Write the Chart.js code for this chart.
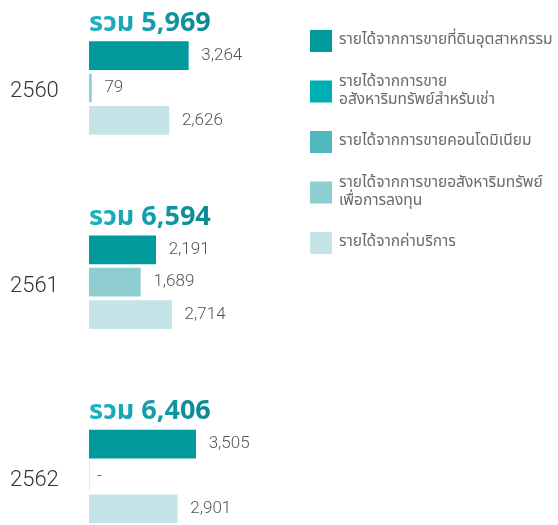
<!DOCTYPE html>
<html>
<head>
<meta charset="utf-8">
<script src="https://cdn.jsdelivr.net/npm/chart.js@4.4.1/dist/chart.umd.min.js"></script>
<style>
  html, body { margin: 0; padding: 0; background: #fff; }
  #wrap { width: 558px; height: 525px; position: relative; }
</style>
</head>
<body>
<div id="wrap"><canvas id="chart"></canvas></div>
<script>
(function () {
    "use strict";

    const years = ["2560", "2561", "2562"];
    const landSales = [3264, 2191, 3505];
    const leaseSales = [null, null, null];
    const condoSales = [null, null, null];
    const investSales = [79, 1689, 0];
    const serviceIncome = [2626, 2714, 2901];

    const seriesNames = [
        ["รายได้จากการขายที่ดินอุตสาหกรรม"],
        ["รายได้จากการขาย", "อสังหาริมทรัพย์สำหรับเช่า"],
        ["รายได้จากการขายคอนโดมิเนียม"],
        ["รายได้จากการขายอสังหาริมทรัพย์", "เพื่อการลงทุน"],
        ["รายได้จากค่าบริการ"],
    ];
    const seriesColors = ["#009a9c", "#00afb3", "#50b9bd", "#8fced0", "#c5e4e7"];

    const seriesValues = [landSales, leaseSales, condoSales, investSales, serviceIncome];
    const seriesRow = ["a", "b", "b", "b", "c"];

    const thaiFont = "'Noto Sans Thai', 'Noto Sans', sans-serif";
    const numFont = "Roboto, 'Liberation Sans', sans-serif";

    // one title row + three bar rows per year, two empty rows between years
    const rows = [];
    years.forEach((y, i) => {
        rows.push(y + "-t", y + "-a", y + "-b", y + "-c");
        if (i < years.length - 1) rows.push(y + "-g1", y + "-g2");
    });

    const totals = years.map((y, i) =>
        seriesValues.reduce((sum, vals) => sum + (vals[i] || 0), 0)
    );

    const datasets = seriesValues.map((vals, s) => ({
        label: seriesNames[s].join(" "),
        data: years.map((y, i) => ({ x: vals[i], y: y + "-" + seriesRow[s] })),
        backgroundColor: seriesColors[s],
        barThickness: 28,
        grouped: false,
    }));

    const valueLabels = {
        id: "valueLabels",
        afterDatasetsDraw(chart) {
            const ctx = chart.ctx;
            ctx.save();
            ctx.font = "300 17px " + numFont;
            ctx.fillStyle = "#555";
            ctx.textBaseline = "middle";
            ctx.textAlign = "left";
            chart.data.datasets.forEach((ds, di) => {
                chart.getDatasetMeta(di).data.forEach((bar, i) => {
                    const v = ds.data[i].x;
                    if (v === null || v === undefined) return;
                    const txt = v === 0 ? "-" : v.toLocaleString("en-US");
                    ctx.fillText(txt, bar.x + (v === 0 ? 8 : 13), bar.y);
                });
            });
            ctx.restore();
        },
    };

    const groupTitles = {
        id: "groupTitles",
        afterDraw(chart) {
            const ctx = chart.ctx;
            const yScale = chart.scales.y;
            const left = chart.chartArea.left;
            ctx.save();
            ctx.font = "bold 27px " + thaiFont;
            ctx.textBaseline = "middle";
            ctx.textAlign = "left";
            years.forEach((y, i) => {
                const txt = "รวม " + totals[i].toLocaleString("en-US");
                const w = ctx.measureText(txt).width;
                const g = ctx.createLinearGradient(left, 0, left + w, 0);
                g.addColorStop(0, "#1cb3c3");
                g.addColorStop(1, "#0b8791");
                ctx.fillStyle = g;
                ctx.fillText(txt, left, yScale.getPixelForValue(rows.indexOf(y + "-t")) + 2);
            });
            ctx.restore();
        },
    };

    const sideLegend = {
        id: "sideLegend",
        afterDraw(chart) {
            const ctx = chart.ctx;
            ctx.save();
            ctx.font = "15.5px " + thaiFont;
            ctx.textBaseline = "middle";
            ctx.textAlign = "left";
            seriesNames.forEach((lines, i) => {
                const cy = 41 + i * 50.5;
                ctx.fillStyle = seriesColors[i];
                ctx.fillRect(310, cy - 11, 22, 22);
                ctx.fillStyle = "#6a6a6a";
                if (lines.length === 1) {
                    ctx.fillText(lines[0], 339, cy);
                } else {
                    ctx.fillText(lines[0], 339, cy - 9);
                    ctx.fillText(lines[1], 339, cy + 9);
                }
            });
            ctx.restore();
        },
    };

    new Chart(document.getElementById("chart"), {
        type: "bar",
        data: {
            labels: rows,
            datasets: datasets,
        },
        options: {
            indexAxis: "y",
            maintainAspectRatio: false,
            responsive: true,
            animation: false,
            layout: {
                padding: { left: 10, top: 7, right: 256, bottom: 0 },
            },
            plugins: {
                legend: { display: false },
                tooltip: { enabled: false },
            },
            scales: {
                x: {
                    display: false,
                    min: 0,
                    max: 7000,
                },
                y: {
                    afterFit(scale) {
                        scale.width = 79;
                        scale.paddingTop = 0;
                        scale.paddingBottom = 0;
                    },
                    grid: { display: false },
                    border: { display: false },
                    ticks: {
                        autoSkip: false,
                        crossAlign: "far",
                        labelOffset: 4,
                        font: { size: 22, family: numFont, weight: 300 },
                        color: "#333",
                        callback: (val, idx) =>
                            rows[idx].endsWith("-b") ? rows[idx].slice(0, 4) : "",
                    },
                },
            },
        },
        plugins: [valueLabels, groupTitles, sideLegend],
    });
})();
</script>
</body>
</html>
